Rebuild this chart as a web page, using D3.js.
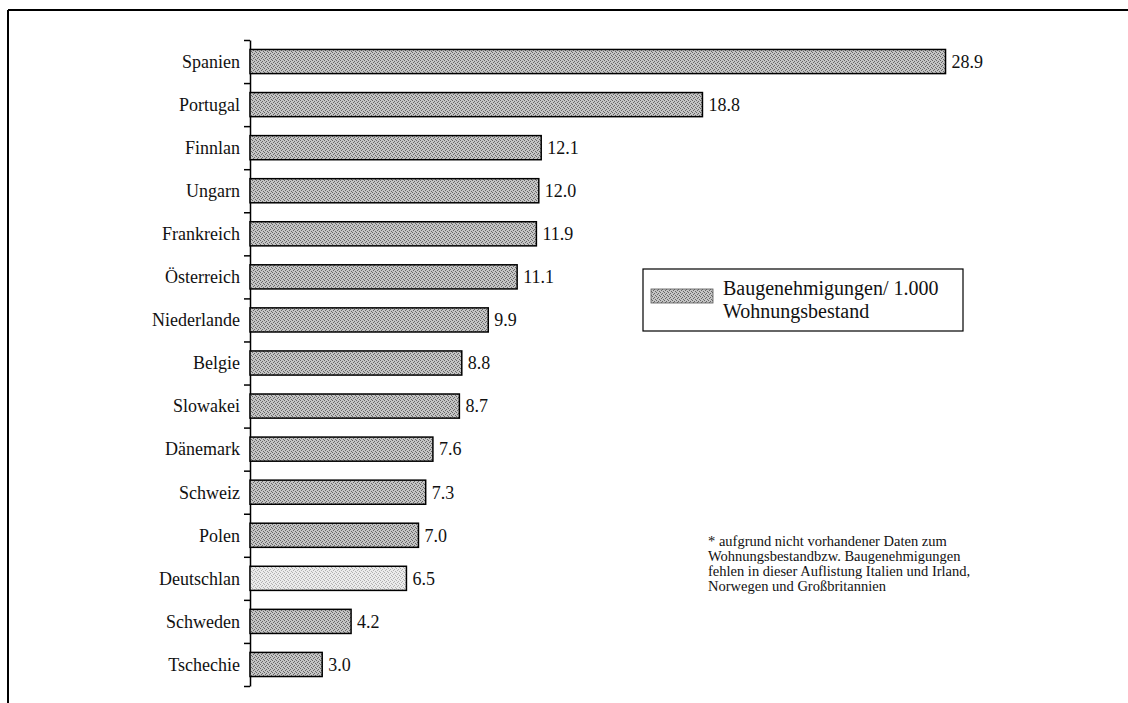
<!DOCTYPE html>
<html>
<head>
	<meta charset="utf-8">
	<title>Baugenehmigungen</title>
	<script src="https://cdnjs.cloudflare.com/ajax/libs/d3/7.8.5/d3.min.js"></script>
	<style type="text/css">
		body { margin: 0; background: #fff; }
		svg { display: block; }
		svg text { font-family: "Liberation Serif", serif; fill: #111; }
		.cat { font-size: 18px; }
		.val { font-size: 18px; }
		.legend text { font-size: 20px; }
		.note { font-size: 14.5px; }
		.axis path, .axis line { stroke: #000; stroke-width: 1.5px; }
	</style>
</head>
<body>
	<script type="text/javascript">
		var countries = ["Spanien", "Portugal", "Finnlan", "Ungarn", "Frankreich", "Österreich",
			"Niederlande", "Belgie", "Slowakei", "Dänemark", "Schweiz", "Polen",
			"Deutschlan", "Schweden", "Tschechie"];
		var values = [28.9, 18.8, 12.1, 12.0, 11.9, 11.1, 9.9, 8.8, 8.7, 7.6, 7.3, 7.0, 6.5, 4.2, 3.0];
		var highlight = "Deutschlan";
		var legendLines = ["Baugenehmigungen/ 1.000", "Wohnungsbestand"];
		var noteLines = ["* aufgrund nicht vorhandener Daten zum",
			"Wohnungsbestandbzw. Baugenehmigungen",
			"fehlen in dieser Auflistung Italien und Irland,",
			"Norwegen und Großbritannien"];

		var W = 1128, H = 703;
		var data = countries.map(function(c, i) { return { name: c, value: values[i] }; });

		var svg = d3.select("body").append("svg")
			.attr("width", W)
			.attr("height", H);

		// stipple patterns
		var defs = svg.append("defs");
		function stipple(id, bg, dot) {
			var p = defs.append("pattern")
				.attr("id", id)
				.attr("patternUnits", "userSpaceOnUse")
				.attr("width", 4).attr("height", 4);
			p.append("rect").attr("width", 4).attr("height", 4).attr("fill", bg);
			[[0, 0], [2, 1], [1, 2], [3, 3]].forEach(function(d) {
				p.append("rect").attr("x", d[0]).attr("y", d[1])
					.attr("width", 1).attr("height", 1).attr("fill", dot);
			});
		}
		stipple("dark", "#c4c4c4", "#666");
		stipple("light", "#ebebeb", "#b0b0b0");

		// frame (top and left only)
		svg.append("line").attr("x1", 8).attr("x2", W).attr("y1", 10).attr("y2", 10)
			.attr("stroke", "#000").attr("stroke-width", 2);
		svg.append("line").attr("x1", 8).attr("x2", 8).attr("y1", 10).attr("y2", H)
			.attr("stroke", "#000").attr("stroke-width", 2);

		var x = d3.scaleLinear().domain([0, 30]).range([250, 972]);
		var y = d3.scaleBand().domain(countries).range([40, 686])
			.paddingInner(0.44).paddingOuter(0.22);

		// axis with ticks between categories
		var yEdge = d3.scaleLinear().domain([0, countries.length]).range([40, 686]);
		svg.append("g")
			.attr("class", "axis")
			.attr("transform", "translate(250,0)")
			.call(d3.axisLeft(yEdge).tickValues(d3.range(countries.length + 1))
				.tickSize(6).tickSizeOuter(0).tickFormat(""));

		svg.selectAll("rect.bar")
			.data(data)
			.enter()
			.append("rect")
				.attr("class", "bar")
				.attr("x", x(0))
				.attr("y", function(d) { return y(d.name); })
				.attr("width", function(d) { return x(d.value) - x(0); })
				.attr("height", y.bandwidth())
				.attr("fill", function(d) { return d.name === highlight ? "url(#light)" : "url(#dark)"; })
				.attr("stroke", "#000")
				.attr("stroke-width", 1.5);

		svg.selectAll("text.cat")
			.data(data)
			.enter()
			.append("text")
				.attr("class", "cat")
				.attr("x", 240)
				.attr("y", function(d) { return y(d.name) + y.bandwidth() / 2; })
				.attr("dy", "0.35em")
				.attr("text-anchor", "end")
				.text(function(d) { return d.name; });

		svg.selectAll("text.val")
			.data(data)
			.enter()
			.append("text")
				.attr("class", "val")
				.attr("x", function(d) { return x(d.value) + 6; })
				.attr("y", function(d) { return y(d.name) + y.bandwidth() / 2; })
				.attr("dy", "0.35em")
				.text(function(d) { return d.value.toFixed(1); });

		// legend
		var lg = svg.append("g").attr("class", "legend");
		lg.append("rect").attr("x", 643).attr("y", 269).attr("width", 320).attr("height", 62)
			.attr("fill", "#fff").attr("stroke", "#000").attr("stroke-width", 1.2);
		lg.append("rect").attr("x", 651).attr("y", 289).attr("width", 62).attr("height", 14)
			.attr("fill", "url(#dark)").attr("stroke", "#555").attr("stroke-width", 0.8);
		lg.selectAll("text")
			.data(legendLines)
			.enter()
			.append("text")
				.attr("x", 723)
				.attr("y", function(d, i) { return 295 + i * 23; })
				.text(function(d) { return d; });

		// footnote
		svg.selectAll("text.note")
			.data(noteLines)
			.enter()
			.append("text")
				.attr("class", "note")
				.attr("x", 708)
				.attr("y", function(d, i) { return 546 + i * 15; })
				.text(function(d) { return d; });
	</script>
</body>
</html>
